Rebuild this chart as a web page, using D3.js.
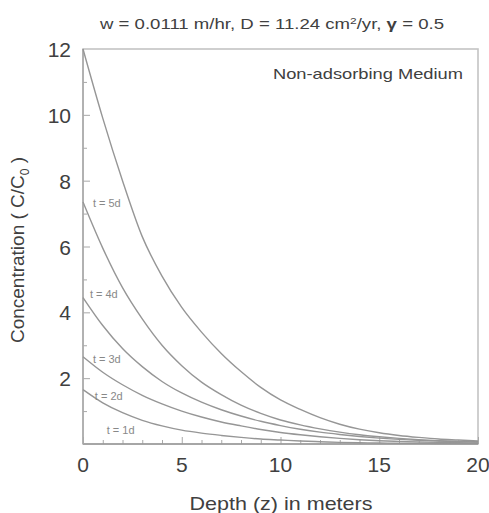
<!DOCTYPE html>
<html>
<head>
<meta charset="utf-8">
<script src="https://cdn.jsdelivr.net/npm/d3@7"></script>
<style>
  body { margin: 0; background: #fff; }
  text { font-family: "Liberation Sans", Arial, sans-serif; }
</style>
</head>
<body>
<svg id="chart" width="489" height="513"></svg>
<script>
// depth samples (m)
const depths = d3.range(0, 21)

// concentration C/C0, one array per day
const day1 = [1.65, 1.25, 0.95, 0.72, 0.55, 0.42, 0.33, 0.26, 0.20, 0.15, 0.12, 0.09, 0.07, 0.05, 0.04, 0.03, 0.025, 0.02, 0.015, 0.01, 0.01]
const day2 = [2.65, 2.18, 1.8, 1.48, 1.22, 1.0, 0.82, 0.67, 0.55, 0.44, 0.35, 0.28, 0.22, 0.17, 0.13, 0.10, 0.08, 0.06, 0.05, 0.04, 0.03]
const day3 = [4.45, 3.6, 2.9, 2.35, 1.9, 1.55, 1.27, 1.04, 0.85, 0.69, 0.56, 0.45, 0.36, 0.29, 0.23, 0.18, 0.14, 0.11, 0.09, 0.07, 0.06]
const day4 = [7.35, 5.95, 4.75, 3.8, 3.0, 2.38, 1.88, 1.5, 1.18, 0.93, 0.73, 0.58, 0.46, 0.36, 0.28, 0.22, 0.17, 0.13, 0.10, 0.08, 0.07]
const day5 = [12.0, 9.9, 8.0, 6.3, 5.1, 4.15, 3.4, 2.75, 2.2, 1.72, 1.34, 1.05, 0.8, 0.6, 0.45, 0.34, 0.26, 0.2, 0.15, 0.12, 0.09]

const seriesNames = ['t = 1d', 't = 2d', 't = 3d', 't = 4d', 't = 5d']
const seriesValues = [day1, day2, day3, day4, day5]
// where each label sits, in data units (depth, concentration)
const labelPos = [[1.2, 0.3], [0.6, 1.35], [0.5, 2.45], [0.35, 4.45], [0.5, 7.2]]

const xTicks = [0, 5, 10, 15, 20]
const yTicks = [2, 4, 6, 8, 10, 12]

const svg = d3.select('#chart')
const x = d3.scaleLinear().domain([0, 20]).range([83, 478])
const y = d3.scaleLinear().domain([0, 12]).range([444, 49])

const grey = '#a8a8a8'
const ink = '#404040'

// frame
svg.append('rect')
  .attr('x', x(0)).attr('y', y(12))
  .attr('width', x(20) - x(0)).attr('height', y(0) - y(12))
  .attr('fill', 'none').attr('stroke', '#c4c4c4').attr('stroke-width', 1.6)

// axes with inward ticks
let xAxis = svg.append('g').attr('transform', `translate(0,${y(0)})`)
  .call(d3.axisBottom(x).tickValues(d3.range(0, 21)).tickSize(-4).tickFormat(''))
xAxis.call(g => g.select('.domain').remove())
xAxis.selectAll('line').attr('stroke', grey)
  .attr('y2', d => xTicks.includes(d) ? -7 : -4)

let yAxis = svg.append('g').attr('transform', `translate(${x(0)},0)`)
  .call(d3.axisLeft(y).tickValues(d3.range(1, 12)).tickSize(-4).tickFormat(''))
yAxis.call(g => g.select('.domain').remove())
yAxis.selectAll('line').attr('stroke', grey)
  .attr('x2', d => yTicks.includes(d) ? 7 : 4)

svg.append('line').attr('x1', x(0)).attr('x2', x(20)).attr('y1', y(0)).attr('y2', y(0))
  .attr('stroke', '#999').attr('stroke-width', 1.6)
svg.append('line').attr('x1', x(0)).attr('x2', x(0)).attr('y1', y(0)).attr('y2', y(12))
  .attr('stroke', '#aaa').attr('stroke-width', 1.6)

// tick labels
svg.selectAll('.xl').data(xTicks).enter().append('text')
  .attr('x', d => x(d)).attr('y', y(0) + 28)
  .attr('text-anchor', 'middle').attr('font-size', 21).attr('fill', ink)
  .text(d => d)

svg.selectAll('.yl').data(yTicks).enter().append('text')
  .attr('x', 71).attr('y', d => y(d) + 8)
  .attr('text-anchor', 'end').attr('font-size', 21).attr('fill', ink)
  .text(d => d)

// curves
const line = d3.line()
  .x((d, i) => x(depths[i]))
  .y(d => y(d))
  .curve(d3.curveMonotoneX)

svg.selectAll('.curve').data(seriesValues).enter().append('path')
  .attr('d', line)
  .attr('fill', 'none').attr('stroke', '#969696').attr('stroke-width', 1.4)

svg.selectAll('.cl').data(seriesNames).enter().append('text')
  .attr('x', (d, i) => x(labelPos[i][0]))
  .attr('y', (d, i) => y(labelPos[i][1]))
  .attr('font-size', 11).attr('fill', '#888')
  .text(d => d)

// titles
svg.append('text').attr('x', 272).attr('y', 29).attr('text-anchor', 'middle')
  .attr('font-size', 14).attr('fill', ink)
  .attr('textLength', 344).attr('lengthAdjust', 'spacingAndGlyphs')
  .html('w = 0.0111 m/hr, D = 11.24 cm<tspan dy="-5" font-size="9">2</tspan><tspan dy="5">/yr, </tspan><tspan font-weight="bold">γ</tspan> = 0.5')

svg.append('text').attr('x', 463).attr('y', 79).attr('text-anchor', 'end')
  .attr('font-size', 15).attr('fill', ink)
  .attr('textLength', 190).attr('lengthAdjust', 'spacingAndGlyphs')
  .text('Non-adsorbing Medium')

svg.append('text').attr('x', 281).attr('y', 510).attr('text-anchor', 'middle')
  .attr('font-size', 19).attr('fill', ink)
  .attr('textLength', 183).attr('lengthAdjust', 'spacingAndGlyphs')
  .text('Depth (z) in meters')

svg.append('text').attr('transform', 'translate(24,250) rotate(-90)')
  .attr('text-anchor', 'middle').attr('font-size', 19).attr('fill', ink)
  .html('Concentration ( C/C<tspan dy="5" font-size="12">0</tspan><tspan dy="-5"> )</tspan>')
</script>
</body>
</html>
